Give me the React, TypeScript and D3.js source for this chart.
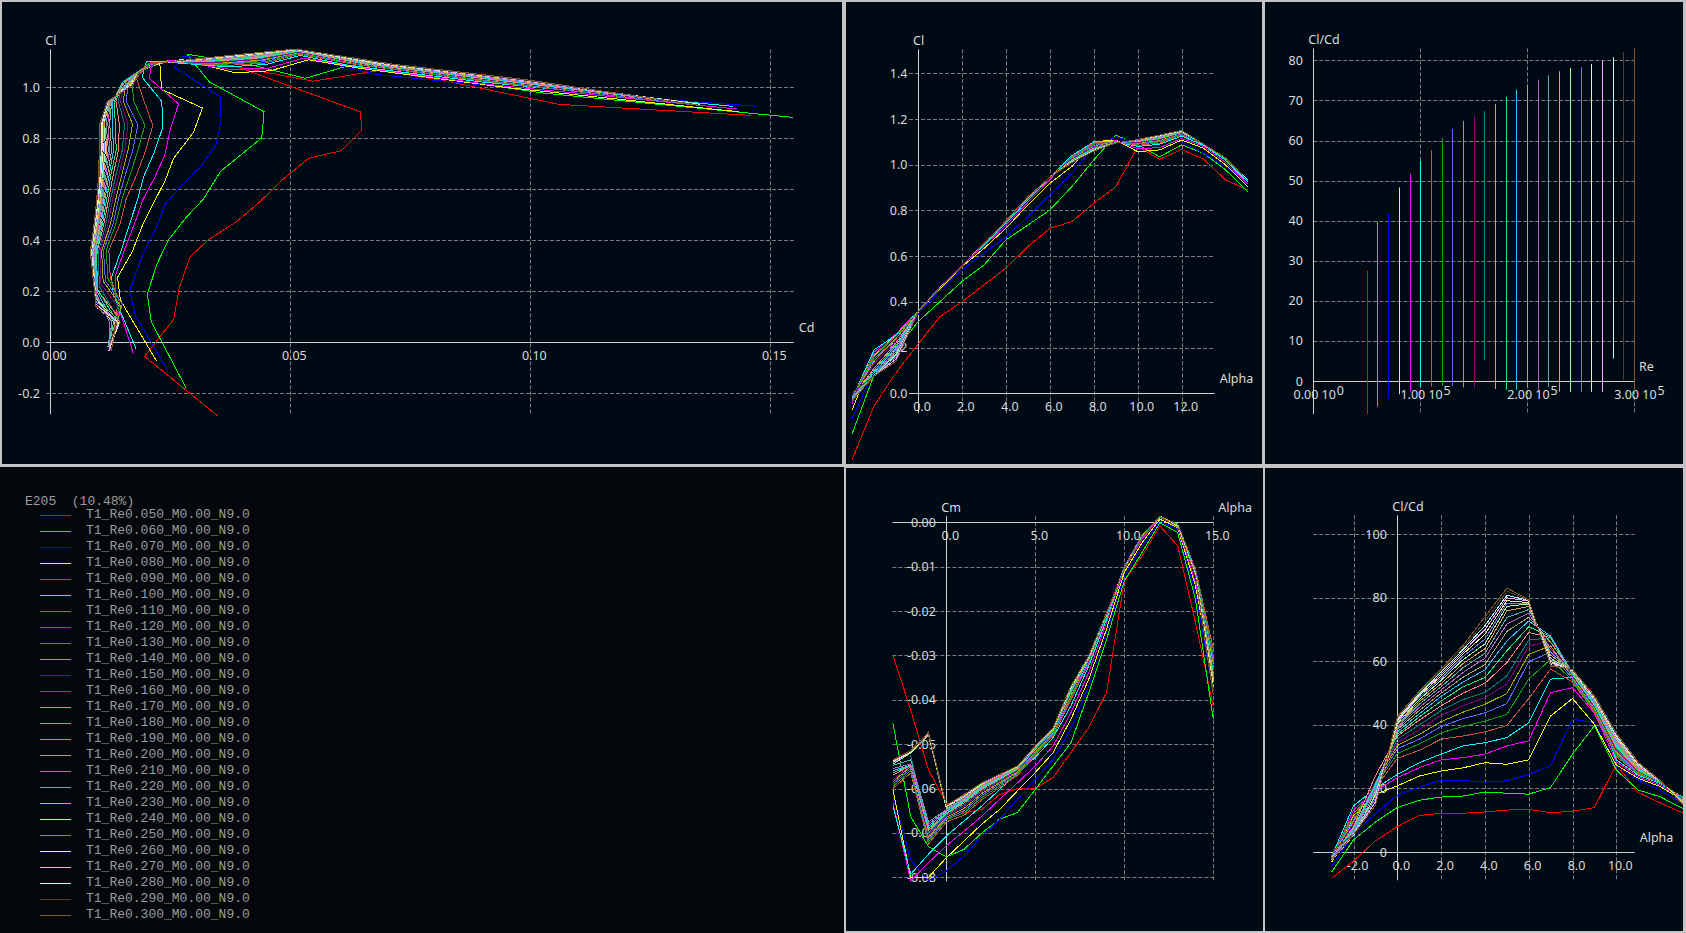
import React from "react";
import * as d3 from "d3";

// ---------------- data ----------------
const ALPHA = [-3, -2, -1, 0, 1, 2, 3, 4, 5, 6, 7, 8, 9, 10, 11, 12, 13, 14, 15];
const REYNOLDS = [50000, 60000, 70000, 80000, 90000, 100000, 110000, 120000, 130000, 140000, 150000, 160000, 170000, 180000, 190000, 200000, 210000, 220000, 230000, 240000, 250000, 260000, 270000, 280000, 290000, 300000];
const SERIES_COLORS = [
  "rgb(255,0,0)", "rgb(0,255,0)", "rgb(0,0,255)", "rgb(255,255,0)", "rgb(255,0,255)", "rgb(0,255,255)",
  "rgb(205,80,70)", "rgb(20,160,20)", "rgb(100,100,255)", "rgb(170,170,0)", "rgb(130,0,130)", "rgb(0,128,128)",
  "rgb(255,130,130)", "rgb(40,230,130)", "rgb(50,190,255)", "rgb(170,170,110)", "rgb(190,100,190)", "rgb(100,170,170)",
  "rgb(230,160,80)", "rgb(160,255,160)", "rgb(120,120,230)", "rgb(240,240,140)", "rgb(255,170,255)", "rgb(170,255,255)",
  "rgb(80,65,40)", "rgb(130,90,40)",
];
const AIRFOIL_TITLE = "E205  (10.48%)";

// Cl per alpha
const CL_RE050 = [-0.29, -0.055, 0.09, 0.215, 0.335, 0.40, 0.474, 0.547, 0.642, 0.722, 0.751, 0.831, 0.904, 1.079, 1.024, 1.067, 1.024, 0.933, 0.89];
const CL_RE060 = [-0.178, 0.08, 0.19, 0.313, 0.401, 0.489, 0.561, 0.671, 0.736, 0.802, 0.904, 1.021, 1.130, 1.087, 1.035, 1.087, 1.050, 0.977, 0.882];
const CL_RE070 = [-0.11, 0.10, 0.20, 0.345, 0.452, 0.54, 0.613, 0.685, 0.773, 0.868, 0.962, 1.079, 1.123, 1.094, 1.101, 1.101, 1.05, 0.992, 0.926];
const CL_RE080 = [-0.073, 0.165, 0.255, 0.355, 0.459, 0.554, 0.634, 0.722, 0.824, 0.919, 0.992, 1.101, 1.108, 1.057, 1.065, 1.108, 1.072, 0.999, 0.904];
const CL_RE090 = [-0.045, 0.18, 0.26, 0.36, 0.465, 0.56, 0.645, 0.735, 0.835, 0.935, 1.035, 1.094, 1.105, 1.07, 1.075, 1.115, 1.08, 1.01, 0.915];
const CL_RE100 = [-0.025, 0.19, 0.255, 0.36, 0.465, 0.56, 0.65, 0.745, 0.845, 0.945, 1.04, 1.10, 1.10, 1.08, 1.09, 1.125, 1.085, 1.02, 0.925];
const CL_RE110 = [-0.018, 0.17, 0.25, 0.36, 0.465, 0.56, 0.655, 0.75, 0.85, 0.945, 1.035, 1.095, 1.10, 1.085, 1.095, 1.13, 1.09, 1.025, 0.93];
const CL_RE120 = [-0.015, 0.16, 0.25, 0.36, 0.465, 0.56, 0.655, 0.752, 0.852, 0.945, 1.03, 1.09, 1.10, 1.09, 1.10, 1.132, 1.09, 1.025, 0.93];
const CL_RE130 = [-0.015, 0.15, 0.24, 0.36, 0.465, 0.56, 0.655, 0.752, 0.853, 0.945, 1.03, 1.085, 1.10, 1.092, 1.105, 1.135, 1.09, 1.027, 0.93];
const CL_RE140 = [-0.02, 0.14, 0.24, 0.358, 0.463, 0.558, 0.655, 0.753, 0.855, 0.945, 1.025, 1.08, 1.10, 1.095, 1.108, 1.137, 1.09, 1.027, 0.932];
const CL_RE150 = [-0.022, 0.13, 0.23, 0.358, 0.463, 0.558, 0.655, 0.753, 0.855, 0.945, 1.025, 1.078, 1.098, 1.097, 1.11, 1.138, 1.09, 1.028, 0.932];
const CL_RE160 = [null, 0.076, 0.22, 0.357, 0.462, 0.557, 0.655, 0.754, 0.856, 0.945, 1.022, 1.075, 1.098, 1.10, 1.113, 1.14, 1.09, 1.028, 0.933];
const CL_RE170 = [-0.025, 0.11, 0.22, 0.357, 0.462, 0.557, 0.655, 0.754, 0.857, 0.945, 1.02, 1.072, 1.097, 1.102, 1.115, 1.141, 1.09, 1.029, 0.933];
const CL_RE180 = [-0.027, 0.10, 0.21, 0.357, 0.461, 0.556, 0.655, 0.754, 0.857, 0.945, 1.02, 1.07, 1.097, 1.103, 1.117, 1.142, 1.09, 1.029, 0.934];
const CL_RE190 = [-0.027, 0.09, 0.20, 0.356, 0.461, 0.556, 0.655, 0.755, 0.858, 0.945, 1.018, 1.068, 1.096, 1.104, 1.119, 1.143, 1.09, 1.03, 0.934];
const CL_RE200 = [-0.017, 0.08, 0.17, 0.356, 0.461, 0.556, 0.655, 0.755, 0.858, 0.945, 1.017, 1.067, 1.096, 1.105, 1.12, 1.144, 1.09, 1.03, 0.935];
const CL_RE210 = [-0.03, 0.08, 0.19, 0.356, 0.46, 0.556, 0.655, 0.755, 0.859, 0.945, 1.016, 1.066, 1.096, 1.106, 1.122, 1.145, 1.09, 1.03, 0.935];
const CL_RE220 = [-0.018, 0.077, 0.18, 0.356, 0.46, 0.555, 0.655, 0.755, 0.859, 0.945, 1.015, 1.065, 1.096, 1.107, 1.123, 1.146, 1.09, 1.03, 0.935];
const CL_RE230 = [-0.033, 0.076, 0.15, 0.355, 0.46, 0.555, 0.655, 0.755, 0.859, 0.945, 1.014, 1.064, 1.095, 1.107, 1.125, 1.147, 1.09, 1.03, 0.934];
const CL_RE240 = [-0.033, 0.076, 0.17, 0.355, 0.46, 0.555, 0.655, 0.755, 0.86, 0.945, 1.013, 1.063, 1.095, 1.108, 1.126, 1.147, 1.09, 1.03, 0.934];
const CL_RE250 = [-0.033, 0.076, 0.16, 0.355, 0.46, 0.555, 0.655, 0.755, 0.86, 0.945, 1.012, 1.062, 1.095, 1.108, 1.127, 1.148, 1.09, 1.03, 0.933];
const CL_RE260 = [-0.033, 0.076, 0.15, 0.355, 0.46, 0.555, 0.655, 0.755, 0.86, 0.945, 1.012, 1.062, 1.095, 1.109, 1.128, 1.148, 1.09, 1.03, 0.933];
const CL_RE270 = [-0.033, 0.076, 0.15, 0.355, 0.46, 0.555, 0.655, 0.755, 0.86, 0.945, 1.011, 1.061, 1.095, 1.109, 1.129, 1.149, 1.09, 1.03, 0.932];
const CL_RE280 = [null, 0.076, 0.14, 0.355, 0.46, 0.555, 0.655, 0.755, 0.86, 0.945, 1.011, 1.061, 1.095, 1.11, 1.129, 1.149, 1.09, 1.03, 0.932];
const CL_RE290 = [0.003, 0.076, 0.14, 0.355, 0.46, 0.555, 0.655, 0.755, 0.86, 0.945, 1.01, 1.06, 1.095, 1.11, 1.13, 1.15, 1.09, 1.03, 0.931];
const CL_RE300 = [-0.033, 0.076, 0.14, 0.355, 0.46, 0.555, 0.655, 0.755, 0.86, 0.945, 1.01, 1.06, 1.095, 1.11, 1.13, 1.15, 1.09, 1.03, 0.93];

// Cl/Cd per alpha
const CLCD_RE050 = [-8.3, -2.8, 3.5, 8.0, 11.5, 12.2, 12.2, 12.6, 13.2, 13.4, 12.4, 12.8, 14.0, 27.6, 18.7, 15.5, 12.4, 8.8, 6.1];
const CLCD_RE060 = [-6.3, 3.8, 9.4, 14.0, 16.3, 17.3, 17.6, 18.9, 18.5, 18.2, 20.3, 30.8, 39.7, 25.8, 19.5, 17.4, 13.8, 9.5, 5.7];
const CLCD_RE070 = [-4.5, 5.6, 12.1, 17.9, 20.4, 22.6, 22.5, 22.0, 22.4, 24.4, 27.1, 41.8, 40.7, 26.9, 22.7, 19.5, 15.4, 10.0, 6.3];
const CLCD_RE080 = [-3.3, 11.3, 18.2, 20.8, 23.9, 25.5, 26.5, 28.1, 27.6, 29.0, 42.8, 48.3, 40.2, 27.4, 23.2, 20.6, 16.4, 10.5, 6.3];
const CLCD_RE090 = [-2.6, 13.3, 19.2, 23.4, 26.5, 29.0, 29.7, 30.8, 33.4, 35.0, 50.2, 51.7, 43.7, 28.4, 23.7, 21.1, 16.9, 11.0, 6.4];
const CLCD_RE100 = [-1.4, 14.5, 20.0, 24.4, 28.1, 30.8, 33.4, 34.4, 36.0, 40.7, 54.4, 55.0, 46.9, 29.0, 24.2, 21.6, 17.4, 11.3, 6.5];
const CLCD_RE110 = [-1.4, 12, 20, 29.5, 32, 35.5, 36.5, 37.8, 39.8, 48.3, 57.6, 53.5, 44, 30, 24.5, 21.8, 17.2, 11.4, 6.9];
const CLCD_RE120 = [-1.2, 11, 20.8, 31, 34, 37.5, 39.5, 41.2, 43.3, 54.4, 60.6, 54, 44.5, 30.5, 24.7, 21.8, 17.0, 11.3, 6.9];
const CLCD_RE130 = [-1.2, 10, 20.9, 32.5, 35.5, 39.5, 42, 43.8, 46.7, 59.9, 62.9, 54.5, 45, 31, 24.9, 21.9, 16.9, 11.3, 6.9];
const CLCD_RE140 = [-1.6, 9.5, 21.8, 33.5, 37, 41, 44, 46.5, 49.9, 62.2, 64.9, 55, 45.3, 31.5, 25.1, 21.9, 16.8, 11.2, 6.9];
const CLCD_RE150 = [-1.8, 9, 21.9, 34.5, 38.5, 43, 46, 48.6, 52.8, 64.8, 66.4, 55.3, 45.6, 32, 25.3, 22, 16.7, 11.2, 6.9];
const CLCD_RE160 = [null, 5.2, 21.6, 35.5, 40, 44.5, 48, 50.2, 55.4, 66.7, 67.4, 55.6, 46, 32.5, 25.5, 22, 16.6, 11.1, 6.9];
const CLCD_RE170 = [-2.0, 8, 24, 36.5, 41.5, 46, 50, 53.1, 59.6, 69.1, 67.5, 55.9, 46.3, 33, 25.7, 22.1, 16.5, 11.1, 6.9];
const CLCD_RE180 = [-2.2, 7.5, 21.4, 37, 42.5, 47.5, 52, 54.9, 63.3, 70.9, 67.8, 56.1, 46.6, 33.5, 25.9, 22.1, 16.4, 11.0, 6.9];
const CLCD_RE190 = [-2.2, 7, 20.6, 37.8, 43.5, 49, 53.5, 57.3, 66.4, 72.7, 68.0, 56.3, 46.9, 34, 26.1, 22.2, 16.3, 11.0, 6.9];
const CLCD_RE200 = [-1.4, 5.5, 17.7, 38.5, 44.5, 50, 55, 59, 69.4, 73.9, 66.0, 56.5, 47.2, 34.4, 26.3, 22.2, 16.2, 10.9, 6.9];
const CLCD_RE210 = [-2.4, 6.5, 19.8, 39, 45.5, 51, 56.5, 61, 71.7, 75.2, 64.0, 56.6, 47.4, 34.8, 26.5, 22.2, 16.1, 10.9, 6.9];
const CLCD_RE220 = [-1.5, 6, 18.9, 39.5, 46.5, 52, 58, 62.5, 73.8, 76.3, 63.0, 56.7, 47.6, 35.2, 26.7, 22.3, 16.0, 10.8, 6.9];
const CLCD_RE230 = [-2.7, 5.3, 15.8, 40, 47.3, 53, 59.3, 64, 75.9, 77.3, 62.0, 56.8, 47.8, 35.5, 26.9, 22.3, 15.9, 10.8, 6.9];
const CLCD_RE240 = [-2.7, 5.4, 17.9, 40.5, 48, 54, 60.5, 65.5, 77.3, 78.1, 61.0, 56.9, 48, 35.8, 27.1, 22.3, 15.8, 10.7, 6.9];
const CLCD_RE250 = [-2.7, 5.3, 16.8, 41, 48.7, 54.7, 61.5, 67, 78.3, 78.2, 60.5, 57.0, 48.2, 36.1, 27.3, 22.4, 15.7, 10.7, 6.9];
const CLCD_RE260 = [-2.7, 5.3, 15.8, 41.3, 49.2, 55.4, 62.3, 68.5, 79.1, 78.5, 60.0, 57.1, 48.4, 36.4, 27.5, 22.4, 15.6, 10.6, 6.9];
const CLCD_RE270 = [-2.7, 5.4, 15.8, 41.7, 49.7, 56, 63, 70, 80.0, 79.0, 59.5, 57.2, 48.6, 36.7, 27.7, 22.4, 15.5, 10.6, 6.9];
const CLCD_RE280 = [null, 5.6, 14.7, 42, 50, 56.6, 63.7, 71.2, 80.8, 79.2, 59.0, 57.3, 48.8, 37, 27.9, 22.5, 15.4, 10.5, 6.9];
const CLCD_RE290 = [0.24, 5.5, 14.7, 42.3, 50.3, 57.1, 64.3, 72.5, 82.1, 79.3, 58.8, 57.4, 49, 37.2, 28.1, 22.5, 15.3, 10.5, 6.9];
const CLCD_RE300 = [-2.6, 5.5, 14.7, 42.6, 50.6, 57.6, 65, 74, 83.1, 79.4, 58.5, 57.5, 49.2, 37.4, 28.3, 22.5, 15.2, 10.4, 6.9];

// Cm per alpha
const CM_RE050 = [-0.030, -0.0423, -0.0558, -0.0633, -0.0655, -0.0647, -0.0613, -0.0600, -0.0600, -0.0575, -0.0519, -0.0463, -0.0384, -0.0132, -0.0076, -0.0008, -0.0053, -0.0226, -0.0414];
const CM_RE060 = [-0.0453, -0.0663, -0.0731, -0.0754, -0.0737, -0.0700, -0.0669, -0.0654, -0.0602, -0.0549, -0.0497, -0.0384, -0.0264, -0.0132, -0.0068, -0.0001, -0.0023, -0.0174, -0.0444];
const CM_RE070 = [-0.0614, -0.0760, -0.0808, -0.0786, -0.0752, -0.0707, -0.0669, -0.0624, -0.0579, -0.0534, -0.0466, -0.0369, -0.0249, -0.0121, -0.0053, 0.0003, -0.0016, -0.0158, -0.0384];
const CM_RE080 = [-0.0602, -0.0801, -0.0800, -0.0756, -0.0718, -0.0680, -0.0647, -0.0605, -0.0564, -0.0519, -0.0444, -0.0354, -0.0241, -0.0113, -0.0046, 0.0007, -0.0012, -0.0143, -0.0354];
const CM_RE090 = [-0.0632, -0.0808, -0.0767, -0.0729, -0.0696, -0.0662, -0.0624, -0.0587, -0.0549, -0.0504, -0.0429, -0.0339, -0.0226, -0.0106, -0.0038, 0.0011, -0.0008, -0.0136, -0.0339];
const CM_RE100 = [-0.0639, -0.0793, -0.0748, -0.0707, -0.0673, -0.0639, -0.0602, -0.0564, -0.0530, -0.0485, -0.0414, -0.0324, -0.0219, -0.0102, -0.0031, 0.0011, -0.0005, -0.0113, -0.0324];
const CM_RE110 = [-0.0600, -0.0565, -0.0725, -0.0675, -0.0660, -0.0625, -0.0598, -0.0570, -0.0525, -0.0480, -0.0400, -0.0318, -0.0213, -0.0100, -0.0028, 0.0012, -0.0004, -0.0105, -0.0285];
const CM_RE120 = [-0.0595, -0.0560, -0.0720, -0.0670, -0.0655, -0.0620, -0.0594, -0.0567, -0.0522, -0.0478, -0.0396, -0.0316, -0.0212, -0.0101, -0.0029, 0.0012, -0.0004, -0.0107, -0.0300];
const CM_RE130 = [-0.0590, -0.0555, -0.0715, -0.0668, -0.0650, -0.0615, -0.0590, -0.0564, -0.0519, -0.0476, -0.0392, -0.0314, -0.0211, -0.0101, -0.0030, 0.0013, -0.0005, -0.0108, -0.0310];
const CM_RE140 = [-0.0585, -0.0550, -0.0710, -0.0665, -0.0645, -0.0611, -0.0587, -0.0562, -0.0517, -0.0474, -0.0389, -0.0312, -0.0210, -0.0102, -0.0030, 0.0013, -0.0005, -0.0110, -0.0320];
const CM_RE150 = [-0.0580, -0.0548, -0.0705, -0.0662, -0.0640, -0.0607, -0.0584, -0.0560, -0.0515, -0.0472, -0.0386, -0.0311, -0.0209, -0.0102, -0.0031, 0.0013, -0.0006, -0.0111, -0.0330];
const CM_RE160 = [null, -0.0525, -0.0700, -0.0660, -0.0636, -0.0604, -0.0581, -0.0558, -0.0513, -0.0471, -0.0384, -0.0310, -0.0209, -0.0102, -0.0031, 0.0013, -0.0006, -0.0112, -0.0330];
const CM_RE170 = [-0.0570, -0.0548, -0.0695, -0.0657, -0.0632, -0.0601, -0.0579, -0.0556, -0.0511, -0.0470, -0.0382, -0.0309, -0.0208, -0.0103, -0.0032, 0.0013, -0.0007, -0.0113, -0.0340];
const CM_RE180 = [-0.0565, -0.0547, -0.0690, -0.0655, -0.0629, -0.0599, -0.0577, -0.0555, -0.0510, -0.0469, -0.0380, -0.0308, -0.0208, -0.0103, -0.0032, 0.0013, -0.0007, -0.0114, -0.0340];
const CM_RE190 = [-0.0560, -0.0547, -0.0685, -0.0652, -0.0626, -0.0597, -0.0575, -0.0554, -0.0509, -0.0468, -0.0378, -0.0307, -0.0207, -0.0103, -0.0033, 0.0014, -0.0008, -0.0115, -0.0350];
const CM_RE200 = [-0.0545, -0.0520, -0.0480, -0.0645, -0.0624, -0.0595, -0.0574, -0.0553, -0.0508, -0.0467, -0.0377, -0.0306, -0.0207, -0.0104, -0.0033, 0.0014, -0.0008, -0.0116, -0.0350];
const CM_RE210 = [-0.0555, -0.0545, -0.0680, -0.0650, -0.0622, -0.0593, -0.0573, -0.0552, -0.0507, -0.0466, -0.0376, -0.0305, -0.0206, -0.0104, -0.0033, 0.0014, -0.0008, -0.0116, -0.0360];
const CM_RE220 = [-0.0548, -0.0535, -0.0675, -0.0648, -0.0620, -0.0592, -0.0572, -0.0552, -0.0507, -0.0466, -0.0375, -0.0305, -0.0206, -0.0104, -0.0034, 0.0014, -0.0009, -0.0117, -0.0360];
const CM_RE230 = [-0.0540, -0.0520, -0.0477, -0.0642, -0.0619, -0.0591, -0.0571, -0.0551, -0.0506, -0.0465, -0.0374, -0.0304, -0.0205, -0.0105, -0.0034, 0.0014, -0.0009, -0.0118, -0.0360];
const CM_RE240 = [-0.0545, -0.0520, -0.0476, -0.0641, -0.0618, -0.0590, -0.0570, -0.0551, -0.0506, -0.0465, -0.0373, -0.0304, -0.0205, -0.0105, -0.0034, 0.0014, -0.0010, -0.0118, -0.0370];
const CM_RE250 = [-0.0542, -0.0518, -0.0476, -0.0640, -0.0617, -0.0589, -0.0570, -0.0550, -0.0505, -0.0464, -0.0372, -0.0303, -0.0205, -0.0105, -0.0034, 0.0014, -0.0010, -0.0119, -0.0370];
const CM_RE260 = [-0.0540, -0.0518, -0.0475, -0.0640, -0.0616, -0.0589, -0.0569, -0.0550, -0.0505, -0.0464, -0.0371, -0.0303, -0.0204, -0.0105, -0.0035, 0.0014, -0.0010, -0.0119, -0.0370];
const CM_RE270 = [-0.0538, -0.0517, -0.0475, -0.0639, -0.0615, -0.0588, -0.0569, -0.0550, -0.0505, -0.0464, -0.0370, -0.0302, -0.0204, -0.0106, -0.0035, 0.0014, -0.0011, -0.0120, -0.0380];
const CM_RE280 = [null, -0.0517, -0.0474, -0.0639, -0.0614, -0.0588, -0.0568, -0.0549, -0.0504, -0.0463, -0.0370, -0.0302, -0.0204, -0.0106, -0.0035, 0.0014, -0.0011, -0.0120, -0.0380];
const CM_RE290 = [-0.0536, -0.0516, -0.0474, -0.0638, -0.0614, -0.0587, -0.0568, -0.0549, -0.0504, -0.0463, -0.0369, -0.0301, -0.0204, -0.0106, -0.0035, 0.0014, -0.0012, -0.0121, -0.0380];
const CM_RE300 = [-0.0535, -0.0515, -0.0473, -0.0638, -0.0613, -0.0587, -0.0568, -0.0549, -0.0504, -0.0463, -0.0369, -0.0301, -0.0204, -0.0106, -0.0035, 0.0014, -0.0012, -0.0121, -0.0390];

const CL_SERIES = [CL_RE050, CL_RE060, CL_RE070, CL_RE080, CL_RE090, CL_RE100, CL_RE110, CL_RE120, CL_RE130, CL_RE140, CL_RE150, CL_RE160, CL_RE170, CL_RE180, CL_RE190, CL_RE200, CL_RE210, CL_RE220, CL_RE230, CL_RE240, CL_RE250, CL_RE260, CL_RE270, CL_RE280, CL_RE290, CL_RE300];
const CLCD_SERIES = [CLCD_RE050, CLCD_RE060, CLCD_RE070, CLCD_RE080, CLCD_RE090, CLCD_RE100, CLCD_RE110, CLCD_RE120, CLCD_RE130, CLCD_RE140, CLCD_RE150, CLCD_RE160, CLCD_RE170, CLCD_RE180, CLCD_RE190, CLCD_RE200, CLCD_RE210, CLCD_RE220, CLCD_RE230, CLCD_RE240, CLCD_RE250, CLCD_RE260, CLCD_RE270, CLCD_RE280, CLCD_RE290, CLCD_RE300];
const CM_SERIES = [CM_RE050, CM_RE060, CM_RE070, CM_RE080, CM_RE090, CM_RE100, CM_RE110, CM_RE120, CM_RE130, CM_RE140, CM_RE150, CM_RE160, CM_RE170, CM_RE180, CM_RE190, CM_RE200, CM_RE210, CM_RE220, CM_RE230, CM_RE240, CM_RE250, CM_RE260, CM_RE270, CM_RE280, CM_RE290, CM_RE300];

// tick values
const POLAR_X_TICKS = [0, 0.05, 0.1, 0.15];
const POLAR_Y_TICKS = [-0.2, 0, 0.2, 0.4, 0.6, 0.8, 1.0];
const CLA_X_TICKS = [0, 2, 4, 6, 8, 10, 12];
const CLA_Y_TICKS = [0, 0.2, 0.4, 0.6, 0.8, 1.0, 1.2, 1.4];
const RE_X_TICKS = [0, 100000, 200000, 300000];
const RE_X_EXP = ["0", "5", "5", "5"];
const RE_Y_TICKS = [0, 10, 20, 30, 40, 50, 60, 70, 80];
const CM_X_TICKS = [0, 5, 10, 15];
const CM_Y_TICKS = [0, -0.01, -0.02, -0.03, -0.04, -0.05, -0.06, -0.07, -0.08];
const GR_X_TICKS = [-2, 0, 2, 4, 6, 8, 10];
const GR_Y_TICKS = [0, 20, 40, 60, 80, 100];

// ---------------- styling / layout ----------------
const FRAME = "#c4c4c4";
const PANEL_BG = "#000a14";
const LEGEND_BG = "#04070b";
const GRID = "#7c7c7c";
const AXIS = "#cfcfcf";
const TXT = "#dcdcdc";
const SANS = "'Noto Sans', 'Open Sans', sans-serif";
const MONO = "'Liberation Mono', 'DejaVu Sans Mono', monospace";

type Pt = { a: number; cl: number; cd: number; clcd: number; cm: number };
const POLARS = REYNOLDS.map((re, i) => {
  const pts: Pt[] = [];
  ALPHA.forEach((a, j) => {
    const cl = CL_SERIES[i][j];
    const r = CLCD_SERIES[i][j];
    const cm = CM_SERIES[i][j];
    if (cl == null || r == null || cm == null) return;
    pts.push({ a, cl, clcd: r, cd: cl / r, cm });
  });
  return {
    re,
    color: SERIES_COLORS[i],
    name: `T1_Re${(re / 1e6).toFixed(3)}_M0.00_N9.0`,
    pts,
  };
});

const fx = (n: number) => (v: number) => v.toFixed(n);

type Panel = { x: number; y: number; w: number; h: number };
type GraphDef = {
  panel: Panel;
  xs: d3.ScaleLinear<number, number>;
  ys: d3.ScaleLinear<number, number>;
  xExt: [number, number];
  yExt: [number, number];
  xTicks: number[];
  yTicks: number[];
  xFmt: ((v: number) => string) | null;
  yFmt: (v: number) => string;
  xTitle: string;
  yTitle: string;
};

const PANEL_TL: Panel = { x: 2, y: 2, w: 840, h: 462 };
const PANEL_TM: Panel = { x: 846, y: 2, w: 416, h: 462 };
const PANEL_TR: Panel = { x: 1265, y: 2, w: 418, h: 462 };
const PANEL_BM: Panel = { x: 846, y: 468, w: 417, h: 463 };
const PANEL_BR: Panel = { x: 1265, y: 468, w: 418, h: 463 };

const G_POLAR: GraphDef = {
  panel: PANEL_TL,
  xs: d3.scaleLinear().domain([0, 0.15]).range([50.3, 770.3]),
  ys: d3.scaleLinear().domain([0, 1]).range([342.3, 87.3]),
  xExt: [-0.0009, 0.1549], yExt: [-0.282, 1.149],
  xTicks: POLAR_X_TICKS, yTicks: POLAR_Y_TICKS, xFmt: fx(2), yFmt: fx(1),
  xTitle: "Cd", yTitle: "Cl",
};
const G_CLA: GraphDef = {
  panel: PANEL_TM,
  xs: d3.scaleLinear().domain([0, 12]).range([918, 1181.7]),
  ys: d3.scaleLinear().domain([0, 1.4]).range([393.3, 73.3]),
  xExt: [-0.41, 13.5], yExt: [-0.0875, 1.505],
  xTicks: CLA_X_TICKS, yTicks: CLA_Y_TICKS, xFmt: fx(1), yFmt: fx(1),
  xTitle: "Alpha", yTitle: "Cl",
};
const G_RE: GraphDef = {
  panel: PANEL_TR,
  xs: d3.scaleLinear().domain([0, 300000]).range([1313.3, 1634]),
  ys: d3.scaleLinear().domain([0, 80]).range([381, 60.4]),
  xExt: [0, 300000], yExt: [-8.3, 83],
  xTicks: RE_X_TICKS, yTicks: RE_Y_TICKS, xFmt: null, yFmt: fx(0),
  xTitle: "Re", yTitle: "Cl/Cd",
};
const G_CM: GraphDef = {
  panel: PANEL_BM,
  xs: d3.scaleLinear().domain([0, 15]).range([946.3, 1213.3]),
  ys: d3.scaleLinear().domain([0, -0.08]).range([522.3, 877.3]),
  xExt: [-3.03, 15], yExt: [-0.0809, 0.0014],
  xTicks: CM_X_TICKS, yTicks: CM_Y_TICKS, xFmt: fx(1), yFmt: fx(2),
  xTitle: "Alpha", yTitle: "Cm",
};
const G_GR: GraphDef = {
  panel: PANEL_BR,
  xs: d3.scaleLinear().domain([0, 10]).range([1397.3, 1616.3]),
  ys: d3.scaleLinear().domain([0, 100]).range([852, 534.3]),
  xExt: [-3.84, 10.84], yExt: [-8.9, 106],
  xTicks: GR_X_TICKS, yTicks: GR_Y_TICKS, xFmt: fx(1), yFmt: fx(0),
  xTitle: "Alpha", yTitle: "Cl/Cd",
};

const cr = (v: number) => Math.round(v) + 0.5;

function Graph({ g, id, children }: { g: GraphDef; id: string; children?: React.ReactNode }) {
  const { panel: p, xs, ys } = g;
  const x0 = xs(0);
  const y0 = ys(0);
  const xa = xs(g.xExt[0]);
  const xb = xs(g.xExt[1]);
  const yA = ys(g.yExt[0]);
  const yB = ys(g.yExt[1]);
  const yTop = Math.min(yA, yB);
  const yBot = Math.max(yA, yB);
  return (
    <g>
      <defs>
        <clipPath id={id}>
          <rect x={p.x} y={p.y} width={p.w} height={p.h} />
        </clipPath>
      </defs>
      <rect x={p.x} y={p.y} width={p.w} height={p.h} fill={PANEL_BG} />
      <g clipPath={`url(#${id})`}>
        {g.xTicks.filter((t) => t !== 0).map((t) => (
          <line key={"gx" + t} x1={cr(xs(t))} x2={cr(xs(t))} y1={yTop} y2={yBot} stroke={GRID} strokeWidth={1} strokeDasharray="4 2" />
        ))}
        {g.yTicks.filter((t) => t !== 0).map((t) => (
          <line key={"gy" + t} x1={xa} x2={xb} y1={cr(ys(t))} y2={cr(ys(t))} stroke={GRID} strokeWidth={1} strokeDasharray="4 2" />
        ))}
        <line x1={xa} x2={xb} y1={cr(y0)} y2={cr(y0)} stroke={AXIS} strokeWidth={1} />
        <line x1={cr(x0)} x2={cr(x0)} y1={yTop} y2={yBot} stroke={AXIS} strokeWidth={1} />
        {g.yTicks.map((t) => (
          <text key={"ly" + t} x={x0 - 10.5} y={ys(t)} textAnchor="end" dominantBaseline="central" fill={TXT} fontFamily={SANS} fontSize={12.5}>
            {g.yFmt(t)}
          </text>
        ))}
        {g.xFmt
          ? g.xTicks.map((t) => (
              <text key={"lx" + t} x={xs(t) + 4} y={y0 + 13.4} textAnchor="middle" dominantBaseline="central" fill={TXT} fontFamily={SANS} fontSize={12.5}>
                {g.xFmt!(t)}
              </text>
            ))
          : g.xTicks.map((t, k) => (
              <g key={"lx" + t}>
                <text x={xs(t) + 1.4} y={y0 + 13.4} textAnchor="middle" dominantBaseline="central" fill={TXT} fontFamily={SANS} fontSize={12.5}>
                  {(t / (k === 0 ? 1 : 100000)).toFixed(2) + " 10"}
                </text>
                <text x={xs(t) + 23.4} y={y0 + 9} textAnchor="start" dominantBaseline="central" fill={TXT} fontFamily={SANS} fontSize={12.5}>
                  {RE_X_EXP[k]}
                </text>
              </g>
            ))}
        <text x={xb + 5} y={y0 - 15} dominantBaseline="central" fill={TXT} fontFamily={SANS} fontSize={12.5}>
          {g.xTitle}
        </text>
        <text x={x0 - 5} y={yTop - 9} dominantBaseline="central" fill={TXT} fontFamily={SANS} fontSize={12.5}>
          {g.yTitle}
        </text>
        {children}
      </g>
    </g>
  );
}

function Curves({ g, fx: getX, fy: getY }: { g: GraphDef; fx: (p: Pt) => number; fy: (p: Pt) => number }) {
  const line = d3
    .line<Pt>()
    .x((p) => g.xs(getX(p)))
    .y((p) => g.ys(getY(p)));
  return (
    <g>
      {POLARS.map((s) => (
        <path key={s.name} d={line(s.pts) || ""} fill="none" stroke={s.color} strokeWidth={1} shapeRendering="crispEdges" />
      ))}
    </g>
  );
}

export default function App() {
  const W = 1686;
  const H = 933;
  return (
    <div style={{ position: "fixed", left: 0, top: 0, width: W, height: H, overflow: "hidden" }}>
      <svg width={W} height={H} viewBox={`0 0 ${W} ${H}`} style={{ display: "block" }}>
        <rect x={0} y={0} width={W} height={H} fill={FRAME} />
        <Graph g={G_POLAR} id="clip-polar">
          <Curves g={G_POLAR} fx={(p) => p.cd} fy={(p) => p.cl} />
        </Graph>
        <Graph g={G_CLA} id="clip-cla">
          <Curves g={G_CLA} fx={(p) => p.a} fy={(p) => p.cl} />
        </Graph>
        <Graph g={G_RE} id="clip-re">
          {POLARS.map((s) => {
            const vals = s.pts.map((p) => p.clcd);
            const lo = d3.min(vals) as number;
            const hi = d3.max(vals) as number;
            const x = cr(G_RE.xs(s.re));
            return <line key={s.name} x1={x} x2={x} y1={G_RE.ys(lo)} y2={G_RE.ys(hi)} stroke={s.color} strokeWidth={1} />;
          })}
        </Graph>
        <Graph g={G_CM} id="clip-cm">
          <Curves g={G_CM} fx={(p) => p.a} fy={(p) => p.cm} />
        </Graph>
        <Graph g={G_GR} id="clip-gr">
          <Curves g={G_GR} fx={(p) => p.a} fy={(p) => p.clcd} />
        </Graph>
        {/* legend panel */}
        <rect x={0} y={467} width={844} height={466} fill={LEGEND_BG} />
        <text x={25} y={505} fill="#9c9c9c" fontFamily={MONO} fontSize={13} style={{ whiteSpace: "pre" }}>
          {AIRFOIL_TITLE}
        </text>
        {POLARS.map((s, k) => (
          <g key={"lg" + s.name}>
            <line x1={40} x2={71} y1={515.5 + 16 * k} y2={515.5 + 16 * k} stroke={s.color} strokeWidth={1} />
            <text x={86} y={518 + 16 * k} fill="#9c9c9c" fontFamily={MONO} fontSize={13}>
              {s.name}
            </text>
          </g>
        ))}
      </svg>
    </div>
  );
}
